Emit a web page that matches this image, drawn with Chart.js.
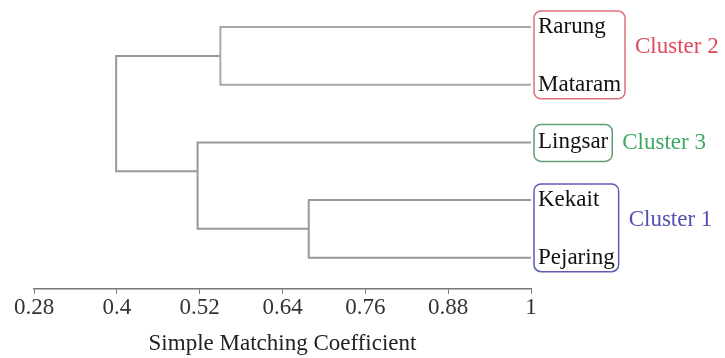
<!DOCTYPE html>
<html>
<head>
<meta charset="utf-8">
<script src="https://cdn.jsdelivr.net/npm/chart.js@4.4.1/dist/chart.umd.min.js"></script>
<style>
    html, body { margin: 0; padding: 0; background: #ffffff; }
    #wrap { width: 725px; height: 358px; position: relative; }
</style>
</head>
<body>
<div id="wrap"><canvas id="dendro"></canvas></div>
<script>
// leaves, top to bottom
const leaves = ['Rarung', 'Mataram', 'Lingsar', 'Kekait', 'Pejaring'];
const leafRow = [0, 1, 2, 3, 4];

// links (scipy style): each one is a U from child A to child B at the merge height
const linkHeight = [0.55, 0.678, 0.517, 0.399];
const linkRowA = [0, 3, 2, 0.5];
const linkRowB = [1, 4, 3.5, 2.5];
const linkHeightA = [1, 1, 1, 0.55];
const linkHeightB = [1, 1, 0.678, 0.517];

// x axis ticks
const xTicks = [0.28, 0.4, 0.52, 0.64, 0.76, 0.88, 1];

// clusters shown on the right
const clusterNames = ['Cluster 2', 'Cluster 3', 'Cluster 1'];
const clusterFirstRow = [0, 2, 3];
const clusterLastRow = [1, 2, 4];
const clusterColors = ['#dd4a5e', '#3fa865', '#5050b4'];
const clusterBoxColors = ['#e0707c', '#5f9f72', '#5c5cb8'];

const serif = '"Liberation Serif"';

function drawChart() {
    const datasets = linkHeight.map(function (h, i) {
        return {
            label: 'link ' + i,
            data: [
                { x: linkHeightA[i], y: linkRowA[i] },
                { x: h, y: linkRowA[i] },
                { x: h, y: linkRowB[i] },
                { x: linkHeightB[i], y: linkRowB[i] }
            ],
            showLine: true,
            borderColor: i === 0 ? '#a8a8a8' : '#999999',
            borderWidth: 2,
            pointRadius: 0,
            tension: 0,
            fill: false
        };
    });

    const labelsPlugin = {
        id: 'leafLabels',
        afterDatasetsDraw: function (chart) {
            const ctx = chart.ctx;
            const xs = chart.scales.x;
            const ys = chart.scales.y;
            const x0 = xs.getPixelForValue(1) + 7;
            ctx.save();
            ctx.font = '23px ' + serif;
            ctx.textBaseline = 'middle';
            ctx.textAlign = 'left';
            ctx.fillStyle = '#111111';
            leaves.forEach(function (name, i) {
                ctx.fillText(name, x0, ys.getPixelForValue(leafRow[i]));
            });

            clusterNames.forEach(function (name, c) {
                let w = 0;
                for (let r = clusterFirstRow[c]; r <= clusterLastRow[c]; r++) {
                    w = Math.max(w, ctx.measureText(leaves[r]).width);
                }
                const single = clusterFirstRow[c] === clusterLastRow[c];
                const left = x0 - 4;
                const right = x0 + w + 4;
                const top = ys.getPixelForValue(clusterFirstRow[c]) - (single ? 18 : 16);
                const bottom = ys.getPixelForValue(clusterLastRow[c]) + (single ? 19 : 14);
                ctx.strokeStyle = clusterBoxColors[c];
                ctx.lineWidth = 1.5;
                ctx.beginPath();
                ctx.roundRect(left, top, right - left, bottom - top, 7);
                ctx.stroke();

                ctx.fillStyle = clusterColors[c];
                ctx.fillText(name, right + 10, (top + bottom) / 2 - (single ? 0 : 8));
            });
            ctx.restore();
        }
    };

    new Chart(document.getElementById('dendro').getContext('2d'), {
        type: 'scatter',
        data: { datasets: datasets },
        options: {
            responsive: true,
            maintainAspectRatio: false,
            animation: false,
            layout: { padding: { left: 34, right: 194, top: 0, bottom: 0 } },
            plugins: {
                legend: { display: false },
                tooltip: { enabled: false }
            },
            scales: {
                x: {
                    type: 'linear',
                    min: 0.28,
                    max: 1,
                    afterBuildTicks: function (axis) {
                        axis.ticks = xTicks.map(function (v) { return { value: v }; });
                    },
                    ticks: {
                        color: '#333333',
                        font: { family: serif, size: 23 },
                        padding: 0,
                        maxRotation: 0,
                        callback: function (v) { return String(v); }
                    },
                    grid: {
                        drawOnChartArea: false,
                        drawTicks: true,
                        tickLength: 5,
                        color: '#777777'
                    },
                    border: { display: true, color: '#777777', width: 1.5 },
                    title: {
                        display: true,
                        text: 'Simple Matching Coefficient',
                        color: '#222222',
                        font: { family: serif, size: 23 },
                        padding: { top: 9, bottom: 0 }
                    }
                },
                y: {
                    display: false,
                    reverse: true,
                    min: -0.47,
                    max: 4.54
                }
            }
        },
        plugins: [labelsPlugin]
    });
}

document.fonts.load('23px "Liberation Serif"').then(drawChart, drawChart);
</script>
</body>
</html>
